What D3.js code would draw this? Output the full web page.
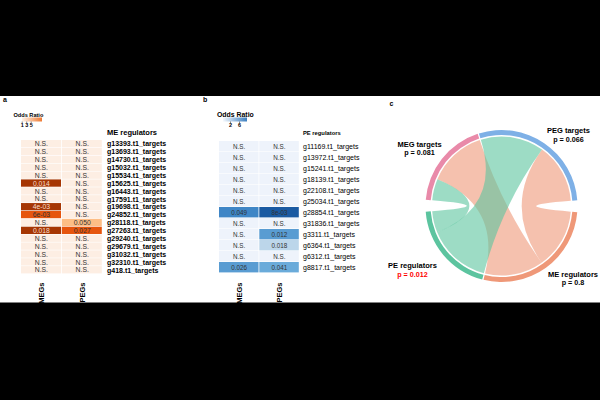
<!DOCTYPE html>
<html>
<head>
<meta charset="utf-8">
<script src="https://cdn.jsdelivr.net/npm/d3@7"></script>
<style>
  html, body { margin: 0; padding: 0; background: #000; }
  svg { display: block; font-family: "Liberation Sans", Arial, sans-serif; }
</style>
</head>
<body>
<div class="chart_container"></div>
<script>
// panel a: ME regulators
const genesA = ["g13393.t1_targets", "g13693.t1_targets", "g14730.t1_targets", "g15032.t1_targets",
  "g15534.t1_targets", "g15625.t1_targets", "g16443.t1_targets", "g17591.t1_targets",
  "g19698.t1_targets", "g24852.t1_targets", "g28118.t1_targets", "g27263.t1_targets",
  "g29240.t1_targets", "g29679.t1_targets", "g31032.t1_targets", "g32310.t1_targets", "g418.t1_targets"];
const colsA = ["MEGs", "PEGs"];
const pMegA = ["N.S.", "N.S.", "N.S.", "N.S.", "N.S.", "0.014", "N.S.", "N.S.", "4e-03", "6e-03", "N.S.", "0.018", "N.S.", "N.S.", "N.S.", "N.S.", "N.S."];
const pPegA = ["N.S.", "N.S.", "N.S.", "N.S.", "N.S.", "N.S.", "N.S.", "N.S.", "N.S.", "N.S.", "0.050", "0.027", "N.S.", "N.S.", "N.S.", "N.S.", "N.S."];
const orMegA = [1, 1, 1, 1, 1, 9.5, 1, 1, 9.5, 7.5, 1, 9.5, 1, 1, 1, 1, 1];
const orPegA = [1, 1, 1, 1, 1, 1, 1, 1, 1, 1, 4, 7.5, 1, 1, 1, 1, 1];
const legendTicksA = [1, 3, 5];

// panel b: PE regulators
const genesB = ["g11169.t1_targets", "g13972.t1_targets", "g15241.t1_targets", "g18139.t1_targets",
  "g22108.t1_targets", "g25034.t1_targets", "g28854.t1_targets", "g31836.t1_targets",
  "g3311.t1_targets", "g6364.t1_targets", "g6312.t1_targets", "g8817.t1_targets"];
const colsB = ["MEGs", "PEGs"];
const pMegB = ["N.S.", "N.S.", "N.S.", "N.S.", "N.S.", "N.S.", "0.049", "N.S.", "N.S.", "N.S.", "N.S.", "0.026"];
const pPegB = ["N.S.", "N.S.", "N.S.", "N.S.", "N.S.", "N.S.", "8e-03", "N.S.", "0.012", "0.018", "N.S.", "0.041"];
const orMegB = [1, 1, 1, 1, 1, 1, 6.2, 1, 1, 1, 1, 5.6];
const orPegB = [1, 1, 1, 1, 1, 1, 8, 1, 5.6, 3, 1, 5.2];
const legendTicksB = [2, 6];

// panel c: chord
const targets = ["PEG targets", "MEG targets"];
const regulators = ["ME regulators", "PE regulators"];
const targetP = ["p = 0.066", "p = 0.081"];
const regulatorP = ["p = 0.8", "p = 0.012"];
// links[regulator][target]
const links = [[50, 49], [53, 18]];

const W = 600, H = 400;
const svg = d3.select('.chart_container').append('svg').attr('width', W).attr('height', H);
svg.append('rect').attr('x', 0).attr('y', 0).attr('width', W).attr('height', H).attr('fill', '#000');
svg.append('rect').attr('x', 0).attr('y', 96).attr('width', W).attr('height', 206.5).attr('fill', '#fff');

const colorA = d3.scaleLinear().domain([1, 4, 7.5, 9.5])
  .range(["#fdeee3", "#fdbe85", "#e6550d", "#a63603"]).clamp(true);
const colorB = d3.scaleLinear().domain([1, 3, 5.2, 6.2, 8])
  .range(["#eef3fb", "#bcd6ea", "#6aabda", "#3f86c6", "#1a5aa2"]).clamp(true);

function drawHeatmap(cfg) {
  const g = svg.append('g');
  g.append('text').attr('x', cfg.letterX).attr('y', 102).attr('font-size', 7).attr('font-weight', 'bold').text(cfg.letter);

  // legend
  g.append('text').attr('x', cfg.legX).attr('y', 116.5).attr('font-size', cfg.legTitleSize)
    .attr('font-weight', 'bold').text('Odds Ratio');
  const gradId = 'grad' + cfg.letter;
  const grad = svg.append('defs').append('linearGradient').attr('id', gradId);
  grad.append('stop').attr('offset', '0%').attr('stop-color', cfg.legColors[0]);
  grad.append('stop').attr('offset', '100%').attr('stop-color', cfg.legColors[1]);
  g.append('rect').attr('x', cfg.barX[0]).attr('y', 117.5).attr('width', cfg.barX[1] - cfg.barX[0]).attr('height', 4)
    .attr('fill', `url(#${gradId})`);
  const legScale = d3.scaleLinear().domain(cfg.legDomain).range(cfg.legRange);
  const axis = g.append('g').attr('transform', 'translate(0,121.5)')
    .call(d3.axisBottom(legScale).tickValues(cfg.legTicks).tickFormat(d3.format('d')).tickSize(1.5).tickPadding(0.5));
  axis.select('.domain').remove();
  axis.selectAll('line').attr('stroke', '#333').attr('stroke-width', 0.6);
  axis.selectAll('text').attr('font-size', 5.5).attr('font-weight', 'bold').attr('fill', '#000')
    .attr('font-family', '"Liberation Sans", Arial, sans-serif');

  const x = d3.scaleBand().domain(cfg.cols).range(cfg.xRange);
  const y = d3.scaleBand().domain(cfg.genes).range(cfg.yRange);

  const cells = [];
  cfg.genes.forEach((gene, i) => {
    cells.push({ gene, col: cfg.cols[0], p: cfg.p[0][i], or: cfg.or[0][i] });
    cells.push({ gene, col: cfg.cols[1], p: cfg.p[1][i], or: cfg.or[1][i] });
  });

  g.selectAll('rect.cell').data(cells).enter().append('rect')
    .attr('class', 'cell')
    .attr('x', d => x(d.col))
    .attr('y', d => y(d.gene))
    .attr('width', x.bandwidth() - 0.8)
    .attr('height', y.bandwidth() - 0.6)
    .attr('fill', d => cfg.color(d.or));

  g.selectAll('text.cell').data(cells).enter().append('text')
    .attr('class', 'cell')
    .attr('x', d => x(d.col) + x.bandwidth() / 2)
    .attr('y', d => y(d.gene) + y.bandwidth() / 2)
    .attr('dy', '0.35em')
    .attr('text-anchor', 'middle')
    .attr('font-size', cfg.cellSize)
    .attr('fill', d => d.or > 9 ? '#f6dccb' : '#333')
    .text(d => d.p);

  g.append('text').attr('x', cfg.labelX).attr('y', 135).attr('font-size', cfg.headSize)
    .attr('font-weight', 'bold').text(cfg.title);

  g.selectAll('text.row').data(cfg.genes).enter().append('text')
    .attr('class', 'row')
    .attr('x', cfg.labelX)
    .attr('y', d => y(d) + y.bandwidth() / 2)
    .attr('dy', '0.35em')
    .attr('font-size', 7)
    .attr('font-weight', cfg.rowWeight)
    .text(d => d);

  g.selectAll('text.col').data(cfg.cols).enter().append('text')
    .attr('class', 'col')
    .attr('transform', d => `translate(${x(d) + x.bandwidth() / 2},282.5) rotate(-90)`)
    .attr('dy', '0.35em')
    .attr('text-anchor', 'end')
    .attr('font-size', 7.5)
    .attr('font-weight', 'bold')
    .text(d => d);
}

drawHeatmap({
  letter: 'a', letterX: 3, legX: 13.5, legTitleSize: 5.6,
  legColors: ['#fff3e8', '#ee7a33'], barX: [22, 42], legDomain: [1, 5], legRange: [21.7, 30.7], legTicks: legendTicksA,
  genes: genesA, cols: colsA, p: [pMegA, pPegA], or: [orMegA, orPegA], color: colorA,
  xRange: [21, 102.6], yRange: [140, 274], cellSize: 6.8,
  labelX: 107, title: 'ME regulators', headSize: 7.5, rowWeight: 'bold'
});

drawHeatmap({
  letter: 'b', letterX: 203, legX: 217, legTitleSize: 6.9,
  legColors: ['#f4f8fd', '#3b7fc0'], barX: [223, 247], legDomain: [2, 6], legRange: [230, 239], legTicks: legendTicksB,
  genes: genesB, cols: colsB, p: [pMegB, pPegB], or: [orMegB, orPegB], color: colorB,
  xRange: [219, 299.6], yRange: [141, 273], cellSize: 6.3,
  labelX: 303, title: 'PE regulators', headSize: 5.8, rowWeight: 'normal'
});

// ---- panel c: chord diagram
svg.append('text').attr('x', 389.5).attr('y', 106).attr('font-size', 7).attr('font-weight', 'bold').text('c');

const cx = 501.5, cy = 206;
const rOuter = 76, rInner = 71, rRibbon = 69.5;
const bigGap = 9, smallGap = 1;
const deg = Math.PI / 180;

const tTotals = targets.map((t, j) => d3.sum(links, r => r[j]));
const rTotals = links.map(r => d3.sum(r));

// clockwise from top: PEG targets, ME regulators, PE regulators, MEG targets
const sectors = [
  { name: targets[0], p: targetP[0], total: tTotals[0], color: '#7eb0e6', gapAfter: bigGap },
  { name: regulators[0], p: regulatorP[0], total: rTotals[0], color: '#ef9878', gapAfter: smallGap },
  { name: regulators[1], p: regulatorP[1], total: rTotals[1], color: '#5cc49f', gapAfter: bigGap },
  { name: targets[1], p: targetP[1], total: tTotals[1], color: '#e98aa9', gapAfter: smallGap }
];
const startDeg = -17.3;
const unitDeg = (360 - d3.sum(sectors, s => s.gapAfter)) / d3.sum(sectors, s => s.total);
const angle = d3.scaleLinear().domain([0, 1]).range([startDeg * deg, (startDeg + unitDeg) * deg]);
let acc = 0;
sectors.forEach(s => {
  s.start = acc;
  s.end = acc + s.total;
  acc = s.end + s.gapAfter / unitDeg;
});

const gc = svg.append('g').attr('transform', `translate(${cx},${cy})`);

// sub-segment order within each sector (clockwise)
const peg = sectors[0], me = sectors[1], pe = sectors[2], meg = sectors[3];
const seg = (s, off, v) => ({ startAngle: angle(s.start + off), endAngle: angle(s.start + off + v), radius: rRibbon });
const ribbons = [
  // ME regulator links (drawn first)
  { source: seg(me, 0, links[0][0]), target: seg(peg, links[1][0], links[0][0]), color: me.color },
  { source: seg(me, links[0][0], links[0][1]), target: seg(meg, links[1][1], links[0][1]), color: me.color },
  // PE regulator links
  { source: seg(pe, 0, links[1][0]), target: seg(peg, 0, links[1][0]), color: pe.color },
  { source: seg(pe, links[1][0], links[1][1]), target: seg(meg, 0, links[1][1]), color: pe.color }
];

const ribbon = d3.ribbon();
gc.selectAll('path.ribbon').data(ribbons).enter().append('path')
  .attr('class', 'ribbon')
  .attr('d', d => ribbon(d))
  .attr('fill', d => d.color)
  .attr('fill-opacity', 0.6);

const arc = d3.arc().innerRadius(rInner).outerRadius(rOuter);
gc.selectAll('path.sector').data(sectors).enter().append('path')
  .attr('class', 'sector')
  .attr('d', d => arc({ startAngle: angle(d.start), endAngle: angle(d.end) }))
  .attr('fill', d => d.color);

const labelPos = {
  "PEG targets": [568.5, 133, 141.5],
  "ME regulators": [573, 276.5, 285],
  "PE regulators": [412.5, 268, 276.5],
  "MEG targets": [419.5, 146.5, 155]
};
sectors.forEach(s => {
  const [lx, ly1, ly2] = labelPos[s.name];
  svg.append('text').attr('x', lx).attr('y', ly1).attr('text-anchor', 'middle')
    .attr('font-size', 7.5).attr('font-weight', 'bold').text(s.name);
  svg.append('text').attr('x', lx).attr('y', ly2).attr('text-anchor', 'middle')
    .attr('font-size', 7.2).attr('font-weight', 'bold')
    .attr('fill', s.name === 'PE regulators' ? '#ff0000' : '#000').text(s.p);
});
</script>
</body>
</html>
